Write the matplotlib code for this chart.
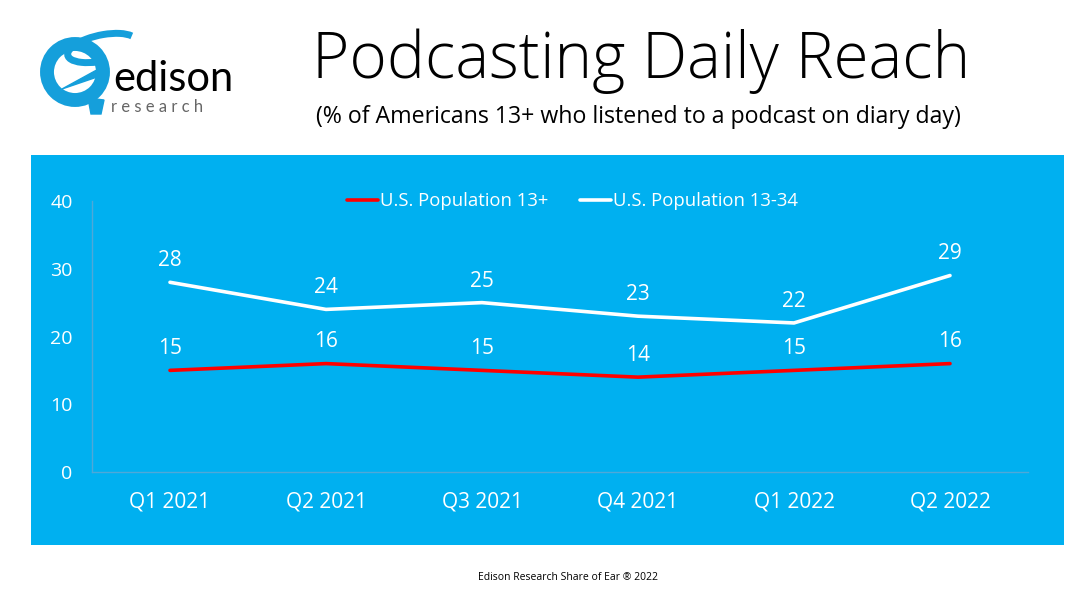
import matplotlib
matplotlib.use('Agg')
import matplotlib.pyplot as plt
from matplotlib.patches import Circle, Arc, Polygon
import numpy as np

# data
quarters = ['Q1 2021', 'Q2 2021', 'Q3 2021', 'Q4 2021', 'Q1 2022', 'Q2 2022']
pop_13_plus = [15, 16, 15, 14, 15, 16]
pop_13_34 = [28, 24, 25, 23, 22, 29]
series_names = ['U.S. Population 13+', 'U.S. Population 13-34']

BLUE = '#00B0F0'
plt.rcParams['font.family'] = ['Open Sans', 'DejaVu Sans']

fig = plt.figure(figsize=(10.8, 6.08), dpi=100)
fig.patch.set_facecolor('white')

# blue panel behind chart
bg = fig.add_axes([31/1080, 1-545/608, (1064-31)/1080, (545-155)/608])
bg.set_facecolor(BLUE)
bg.set_xticks([])
bg.set_yticks([])
for s in bg.spines.values():
    s.set_visible(False)
bg.set_zorder(0)

ax = fig.add_axes([92/1080, 1-472/608, 936/1080, 271/608])
ax.set_zorder(1)
ax.set_facecolor('none')
x = np.arange(len(quarters)) + 0.5
ax.plot(x, pop_13_plus, color='#FF0000', lw=2.6, label=series_names[0], solid_capstyle='round')
ax.plot(x, pop_13_34, color='white', lw=2.6, label=series_names[1], solid_capstyle='round')
for xi, v in zip(x, pop_13_plus):
    ax.annotate(str(v), (xi, v), xytext=(0, 8), textcoords='offset points',
                ha='center', va='bottom', color='white', fontsize=15)
for xi, v in zip(x, pop_13_34):
    ax.annotate(str(v), (xi, v), xytext=(0, 8), textcoords='offset points',
                ha='center', va='bottom', color='white', fontsize=15)

ax.set_xlim(0, 6)
ax.set_ylim(0, 40)
ax.set_xticks(x)
ax.set_xticklabels(quarters, fontsize=15, color='white')
ax.set_yticks([0, 10, 20, 30, 40])
ax.set_yticklabels(['0', '10', '20', '30', '40'], fontsize=14, color='white')
ax.tick_params(length=0)
ax.tick_params(axis='x', pad=14)
ax.tick_params(axis='y', pad=14)
for s in ['top', 'right']:
    ax.spines[s].set_visible(False)
for s in ['left', 'bottom']:
    ax.spines[s].set_color('#4FA8D8')
    ax.spines[s].set_linewidth(1.0)

leg = ax.legend(loc='center', bbox_to_anchor=(0.513, 1.0), ncol=2, frameon=False,
                fontsize=13.3, labelcolor='white', handlelength=1.7, handletextpad=0.1,
                columnspacing=1.7)

# title texts
fig.text(641/1080, 1-61/608, 'Podcasting Daily Reach', ha='center', va='center',
         fontsize=46, color='black', fontweight='light')
fig.text(638/1080, 1-117/608, '(% of Americans 13+ who listened to a podcast on diary day)',
         ha='center', va='center', fontsize=16.7, color='black')
fig.text(568/1080, 1-578/608, 'Edison Research Share of Ear \u00ae 2022', ha='center', va='center',
         fontsize=7.5, color='black')

# logo
lax = fig.add_axes([0, 1-140/608, 300/1080, 140/608])
lax.set_xlim(0, 300)
lax.set_ylim(140, 0)
lax.axis('off')
LOGO = '#159FDB'
lax.add_patch(Circle((75, 72), 28, fill=False, lw=10, edgecolor=LOGO))
lax.add_patch(Arc((102, 48), 70, 26, angle=-12, theta1=120, theta2=350, lw=5, color=LOGO))
lax.add_patch(Polygon([[62, 89], [104, 66], [106, 74]], closed=True, color=LOGO))
lax.add_patch(Polygon([[88, 98], [104, 100], [101, 114], [91, 114]], closed=True, color=LOGO))
lax.text(113, 91, 'edison', fontsize=30, color='black', va='baseline', ha='left',
         family=['Lato', 'DejaVu Sans'])
lax.text(111, 112, 'r e s e a r c h', fontsize=12, color='#666666', va='baseline', ha='left',
         family=['Lato', 'DejaVu Sans'])

fig.savefig('out.png', dpi=100, facecolor='white')
